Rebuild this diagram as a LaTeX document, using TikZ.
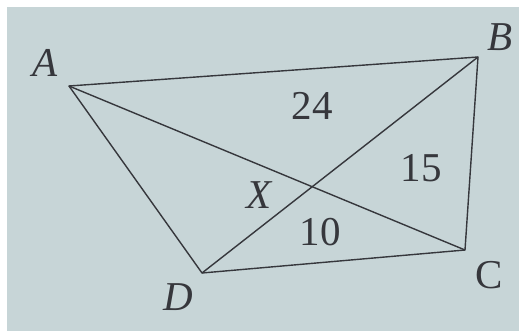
\documentclass[tikz,border=0pt]{standalone}
\usepackage{fontspec}
\setmainfont{Liberation Serif}
\definecolor{paper}{HTML}{C7D5D7}
\definecolor{ink}{HTML}{36373C}
\begin{document}
\begin{tikzpicture}[x=1pt,y=-1pt,
  edge/.style={draw=ink,line width=1.4pt,line join=round},
  lbl/.style={text=ink,inner sep=0pt,font=\fontsize{41}{49}\selectfont}]
\useasboundingbox (0,0) rectangle (519,332);
\fill[white] (0,0) rectangle (519,332);
\fill[paper] (7,7) rectangle (519,331);
\coordinate (A) at (69,86);
\coordinate (B) at (478,57);
\coordinate (C) at (465,250);
\coordinate (D) at (202,273);
\draw[edge] (A) -- (B) -- (C) -- (D) -- cycle;
\draw[edge] (A) -- (C);
\draw[edge] (B) -- (D);
\node[lbl] (lA) at (45,63) {\itshape A};
\node[lbl] (lB) at (500,37) {\itshape B};
\node[lbl] (lC) at (489,275) {C};
\node[lbl] (lD) at (178,297) {\itshape D};
\node[lbl] (lX) at (259,195) {\itshape X};
\node[lbl] (n24) at (312,106) {24};
\node[lbl] (n15) at (421,168) {15};
\node[lbl] (n10) at (320,232) {10};
\end{tikzpicture}
\end{document}
